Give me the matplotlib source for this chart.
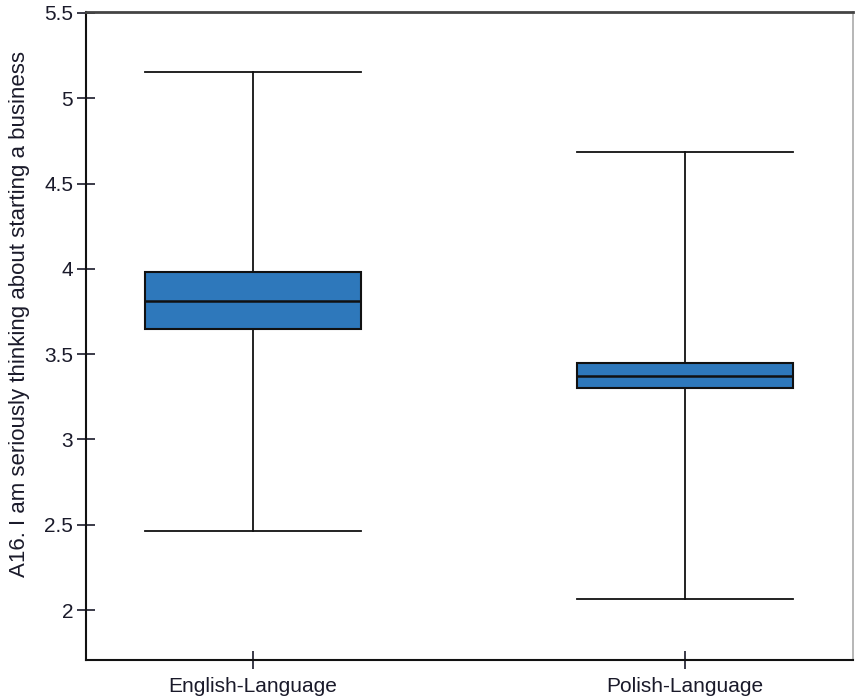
import matplotlib
matplotlib.use("Agg")
import matplotlib.pyplot as plt

categories = ["English-Language", "Polish-Language"]
whisker_low = [2.465, 2.065]
q1 = [3.648, 3.300]
median = [3.812, 3.374]
q3 = [3.982, 3.450]
whisker_high = [5.155, 4.685]
ylabel = "A16. I am seriously thinking about starting a business"
yticks = [2, 2.5, 3, 3.5, 4, 4.5, 5, 5.5]
ytick_labels = ["2", "2.5", "3", "3.5", "4", "4.5", "5", "5.5"]

plt.rcParams['font.family'] = ['Liberation Sans', 'DejaVu Sans']

fig = plt.figure(figsize=(8.55, 7.0), dpi=100)
ax = fig.add_axes([0.1006, 0.0571, 0.8971, 0.9258])

stats = []
for i, c in enumerate(categories):
    stats.append(dict(label=c, whislo=whisker_low[i], q1=q1[i], med=median[i],
                      q3=q3[i], whishi=whisker_high[i], fliers=[]))

ax.bxp(stats, positions=[1, 2], widths=0.5, patch_artist=True, showfliers=False,
       boxprops=dict(facecolor="#2E78BB", edgecolor="#111111", linewidth=1.5),
       medianprops=dict(color="#111111", linewidth=1.8),
       whiskerprops=dict(color="#111111", linewidth=1.3),
       capprops=dict(color="#111111", linewidth=1.3),
       capwidths=0.5)

ax.set_xlim(0.613, 2.389)
ax.set_ylim(1.707, 5.506)
ax.set_yticks(yticks)
ax.set_yticklabels(ytick_labels)
ax.set_xticks([1, 2])
ax.set_xticklabels(categories)
ax.tick_params(axis='both', direction='inout', length=12.5, width=1.2,
               labelsize=15, colors="#1a1a2a", pad=3)
ax.tick_params(axis='x', pad=6)
ax.set_ylabel(ylabel, fontsize=16, color="#1a1a2a")
ax.yaxis.set_label_coords(-0.073, 0.534)

for s in ['left', 'bottom']:
    ax.spines[s].set_linewidth(1.5)
    ax.spines[s].set_color("#111111")
ax.spines['top'].set_linewidth(2.0)
ax.spines['top'].set_color("#444444")
ax.spines['right'].set_linewidth(1.2)
ax.spines['right'].set_color("#aaaaaa")

fig.savefig("out.png", dpi=100)
